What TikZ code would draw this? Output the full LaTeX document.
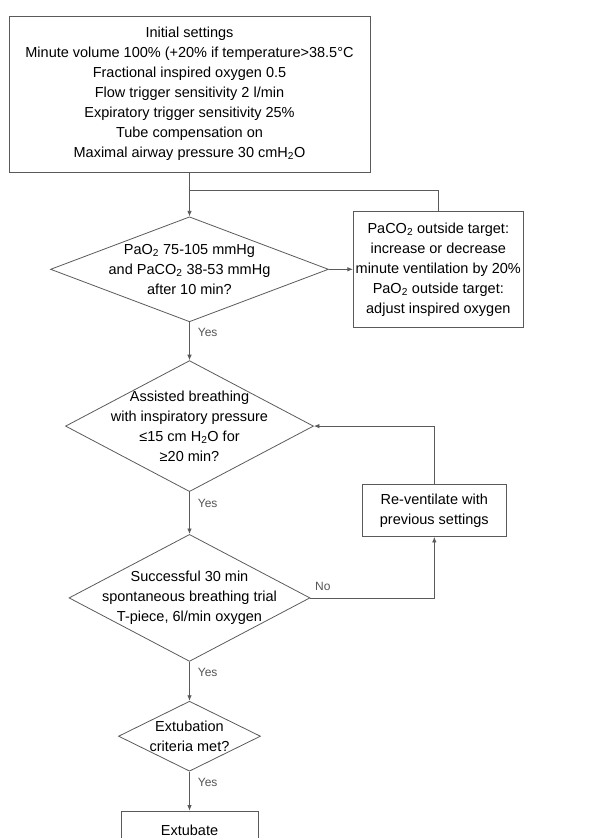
\documentclass[tikz,border=0pt]{standalone}
\usepackage{fontspec}
\setmainfont{Liberation Sans}
\usepackage{tikz}
\usetikzlibrary{arrows.meta,positioning,shapes.geometric}
\definecolor{edgegray}{HTML}{5A5A5A}
\definecolor{labelgray}{HTML}{555555}

\begin{document}
\begin{tikzpicture}[
  x=1pt,y=1pt,
  every node/.style={font=\fontsize{14.5}{20}\selectfont},
  procbox/.style={rectangle,draw=edgegray,line width=0.8pt,align=center,inner sep=2pt},
  decision/.style={diamond,draw=edgegray,line width=0.8pt,align=center,
                   inner xsep=-50pt,inner ysep=-25pt},
  arrow/.style={-{Latex[length=5.5pt,width=4.5pt]},draw=edgegray,line width=0.8pt},
  link/.style={draw=edgegray,line width=0.8pt},
  yeslabel/.style={pos=0.27,anchor=west,inner sep=0pt,xshift=8pt,
                   text=labelgray,font=\fontsize{12}{14}\selectfont},
  nolabel/.style={pos=0.05,anchor=south,inner sep=0pt,yshift=7pt,
                  text=labelgray,font=\fontsize{12}{14}\selectfont}
]
  \useasboundingbox (0,0) rectangle (600,-838);

  \node[procbox,minimum width=361pt,minimum height=156pt] (init) at (189.5,-94)
    {Initial settings\\
     Minute volume 100\% (+20\% if temperature>38.5°C\\
     Fractional inspired oxygen 0.5\\
     Flow trigger sensitivity 2 l/min\\
     Expiratory trigger sensitivity 25\%\\
     Tube compensation on\\
     Maximal airway pressure 30 cmH\textsubscript{2}O};
  \node[decision,minimum width=278pt,minimum height=105pt,below=44pt of init] (check)
    {PaO\textsubscript{2} 75-105 mmHg\\and PaCO\textsubscript{2} 38-53 mmHg\\after 10 min?};
  \node[decision,minimum width=248pt,minimum height=131pt,below=38pt of check] (assist)
    {Assisted breathing\\with inspiratory pressure\\≤15 cm H\textsubscript{2}O for\\≥20 min?};
  \node[decision,minimum width=241pt,minimum height=127pt,below=42pt of assist] (trial)
    {Successful 30 min\\spontaneous breathing trial\\T-piece, 6l/min oxygen};
  \node[decision,minimum width=142pt,minimum height=70pt,below=39pt of trial] (criteria)
    {Extubation\\criteria met?};
  \node[procbox,minimum width=137pt,minimum height=38pt,below=39pt of criteria] (extubate)
    {Extubate};

  \node[procbox,inner xsep=1pt,minimum width=170pt,minimum height=116pt,
        right=24pt of check] (adjust)
    {PaCO\textsubscript{2} outside target:\\increase or decrease\\minute ventilation by 20\%\\
     PaO\textsubscript{2} outside target:\\adjust inspired oxygen};
  \node[procbox,minimum width=144pt,minimum height=52pt,
        below right=58pt and 48pt of assist.east] (revent)
    {Re-ventilate with\\previous settings};

  \coordinate[below=18pt of init] (split);

  \draw[arrow] (init) -- (check);
  \draw[link] (split) -| (adjust);
  \draw[arrow] (check) -- (adjust);
  \draw[arrow] (check) -- node[yeslabel] (yes1) {Yes} (assist);
  \draw[arrow] (assist) -- node[yeslabel] (yes2) {Yes} (trial);
  \draw[arrow] (trial) -- node[yeslabel] (yes3) {Yes} (criteria);
  \draw[arrow] (criteria) -- node[yeslabel] (yes4) {Yes} (extubate);
  \draw[arrow] (trial.east) -| node[nolabel] (no1) {No} (revent);
  \draw[arrow] (revent) |- (assist);
\end{tikzpicture}
\end{document}
